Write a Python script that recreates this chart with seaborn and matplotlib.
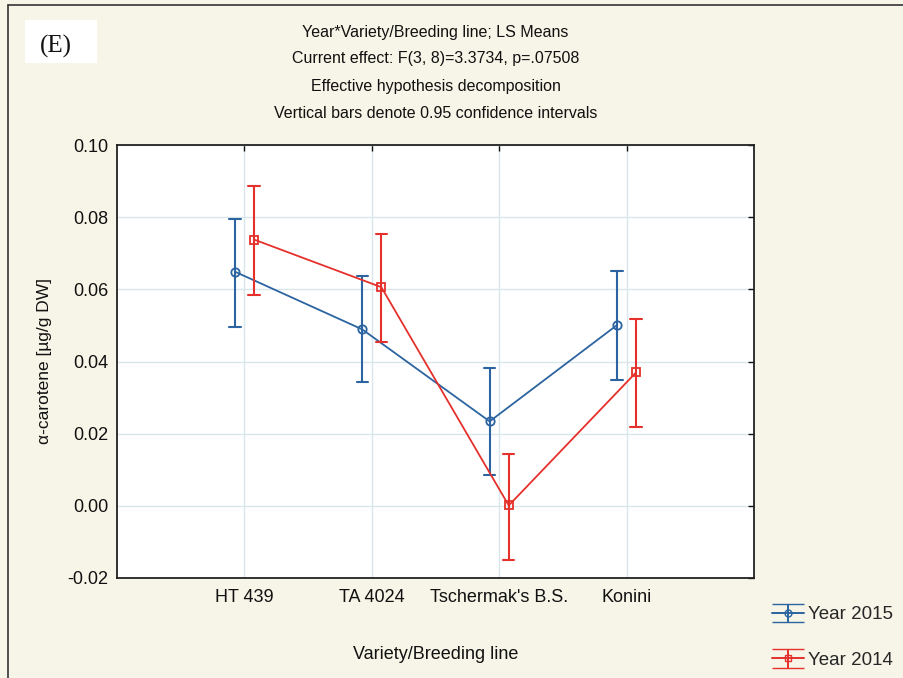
import numpy as np
import pandas as pd
import matplotlib
matplotlib.use("Agg")
import matplotlib.pyplot as plt
import seaborn as sns

# ---- data ----
categories = ["HT 439", "TA 4024", "Tschermak's B.S.", "Konini"]
years = ["Year 2015", "Year 2014"]
mean_2015 = [0.0649, 0.0489, 0.0234, 0.0501]
low_2015 = [0.0495, 0.0342, 0.0085, 0.0348]
high_2015 = [0.0796, 0.0638, 0.0382, 0.0650]
mean_2014 = [0.0738, 0.0606, 0.0001, 0.0370]
low_2014 = [0.0584, 0.0455, -0.0150, 0.0218]
high_2014 = [0.0886, 0.0752, 0.0145, 0.0517]
yticks = [-0.02, 0.00, 0.02, 0.04, 0.06, 0.08, 0.10]
title_lines = ["Year*Variety/Breeding line; LS Means",
               "Current effect: F(3, 8)=3.3734, p=.07508",
               "Effective hypothesis decomposition",
               "Vertical bars denote 0.95 confidence intervals"]

# long table: low / mean / high per cell -> median = mean, 100% interval = CI
rows = []
for yr, lo, mu, hi in [("Year 2015", low_2015, mean_2015, high_2015),
                       ("Year 2014", low_2014, mean_2014, high_2014)]:
    for c, a, b, d in zip(categories, lo, mu, hi):
        for v in (a, b, d):
            rows.append({"Variety": c, "Year": yr, "value": v})
df = pd.DataFrame(rows)

BLUE = "#2b64a0"
RED = "#e5302c"
BG = "#f7f5e7"
SANS = ["Liberation Sans Narrow", "Liberation Sans", "DejaVu Sans"]

sns.set_style("white")
plt.rcParams["font.family"] = ["Liberation Sans", "DejaVu Sans"]

fig = plt.figure(figsize=(9.04, 6.78), dpi=100, facecolor=BG)
ax = fig.add_axes([117 / 904, 1 - 578 / 678, 637 / 904, 433 / 678])
ax.set_facecolor("white")

sns.pointplot(data=df, x="Variety", y="value", hue="Year",
              order=categories, hue_order=years,
              palette=[BLUE, RED], markers=["o", "s"],
              estimator="median", errorbar=("pi", 100),
              dodge=0.15, capsize=0.09, linewidth=1.3,
              err_kws={"linewidth": 1.5}, markersize=6,
              legend=False, ax=ax)

for ln in ax.lines:
    ln.set_markerfacecolor("none")
    ln.set_markeredgewidth(1.3)

ax.set_xlim(-1, 4)
ax.set_ylim(-0.02, 0.10)
ax.set_yticks(yticks)
ax.set_yticklabels([f"{t:.2f}" for t in yticks])
ax.grid(True, color="#dbe6ea", linewidth=1)
ax.set_axisbelow(True)
for s in ax.spines.values():
    s.set_visible(True)
    s.set_color("#222222")
    s.set_linewidth(1.3)
ax.tick_params(direction="in", length=4, width=1, top=True, right=True,
               labelsize=13, colors="#111111", pad=6)
ax.tick_params(axis="x", pad=8)

ax.set_xlabel("Variety/Breeding line", fontsize=13, labelpad=29,
              family=SANS, color="#111111")
ax.set_ylabel("α-carotene [µg/g DW]", fontsize=12.5, labelpad=11,
              family=SANS, color="#111111")

# title block
cx = (117 + 754) / 2 / 904
for i, (t, yy) in enumerate(zip(title_lines, [32, 59, 87, 113])):
    fig.text(cx, 1 - yy / 678, t, ha="center", va="center",
             fontsize=11.5, color="#111111", family=SANS)

# panel label
fig.patches.append(plt.Rectangle((25 / 904, 1 - 63 / 678), 72 / 904, 43 / 678,
                                 transform=fig.transFigure, facecolor="white",
                                 edgecolor="none"))
fig.text(56 / 904, 1 - 46 / 678, "(E)", ha="center", va="center",
         fontsize=18, family=["Liberation Serif", "DejaVu Serif"], color="#111111")

# figure frame (left and top visible)
fig.add_artist(plt.Line2D([8 / 904, 8 / 904], [0, 1 - 5 / 678],
                          transform=fig.transFigure, color="#333333", linewidth=1.2))
fig.add_artist(plt.Line2D([8 / 904, 1], [1 - 5 / 678, 1 - 5 / 678],
                          transform=fig.transFigure, color="#333333", linewidth=1.2))

# legend with errorbar-style handles
h1 = ax.errorbar([np.nan], [np.nan], yerr=[[np.nan], [np.nan]], color=BLUE,
                 marker="o", mfc="none", capsize=11.5, linewidth=1.4, markersize=5)
h2 = ax.errorbar([np.nan], [np.nan], yerr=[[np.nan], [np.nan]], color=RED,
                 marker="s", mfc="none", capsize=11.5, linewidth=1.4, markersize=5)
fig.legend([h1, h2], years, loc="center left",
           bbox_to_anchor=(755 / 904, 1 - 637.5 / 678), frameon=False,
           fontsize=13.5, labelspacing=1.5, handlelength=1.7, handletextpad=0.25,
           borderpad=0.4)

fig.savefig("out.png", dpi=100, facecolor=BG)
